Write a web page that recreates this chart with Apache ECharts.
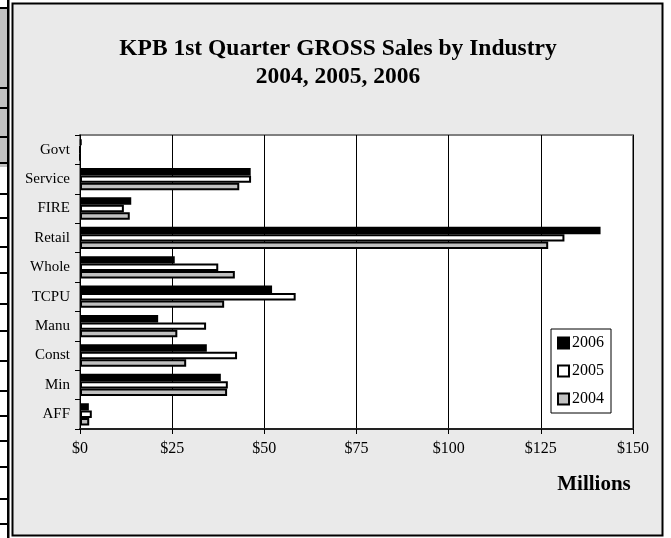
<!DOCTYPE html>
<html>
<head>
<meta charset="utf-8">
<script src="https://cdn.jsdelivr.net/npm/echarts@6/dist/echarts.min.js"></script>
<style>
  html, body { margin: 0; padding: 0; background: #ffffff; }
  #chart { width: 671px; height: 538px; }
</style>
</head>
<body>
<div id="chart"></div>
<script>
// Categories listed bottom to top (category axis on y runs upward)
const industries = ['AFF', 'Min', 'Const', 'Manu', 'TCPU', 'Whole', 'Retail', 'FIRE', 'Service', 'Govt'];
// Gross sales, millions of dollars
const sales2006 = [2.4, 38.2, 34.4, 21.2, 52.1, 25.7, 141.2, 13.9, 46.3, 0.4];
const sales2005 = [3.2, 40.1, 42.6, 34.2, 58.5, 37.5, 131.4, 11.9, 46.4, 0];
const sales2004 = [2.5, 39.9, 28.8, 26.4, 39.1, 42.0, 127.0, 13.5, 43.2, 0];
const xTicks = [0, 25, 50, 75, 100, 125, 150];
const legendOrder = ['2006', '2005', '2004'];

const serif = 'Liberation Serif, Times New Roman, serif';
const chart = echarts.init(document.getElementById('chart'), null, { renderer: 'canvas' });

const leftLines = [7, 87, 107, 136, 162, 193, 217, 246, 272, 303, 330, 360, 390, 415, 440, 466, 498, 523];

const option = {
  animation: false,
  backgroundColor: '#ffffff',
  textStyle: { fontFamily: serif },
  graphic: [
    { type: 'rect', z: -100, shape: { x: 0, y: 7, width: 8, height: 160 }, style: { fill: '#c0c0c0' } },
    { type: 'rect', z: -100, shape: { x: 7, y: 0, width: 2.5, height: 538 }, style: { fill: '#000' } },
    ...leftLines.map(y => ({ type: 'rect', z: -100, shape: { x: 0, y: y, width: 8, height: 2 }, style: { fill: '#000' } })),
    { type: 'rect', z: -100, shape: { x: 12.5, y: 3.5, width: 650, height: 532 }, style: { fill: '#eaeaea', stroke: '#000', lineWidth: 2 } }
  ],
  title: [
    {
      text: 'KPB 1st Quarter GROSS Sales by Industry\n2004, 2005, 2006',
      left: 333, top: 30, textAlign: 'center',
      textStyle: { fontFamily: serif, fontWeight: 'bold', fontSize: 23.5, lineHeight: 28, color: '#000' }
    },
    {
      text: 'Millions',
      left: 589, top: 469, textAlign: 'center',
      textStyle: { fontFamily: serif, fontWeight: 'bold', fontSize: 21, color: '#000' }
    }
  ],
  legend: {
    data: legendOrder,
    orient: 'vertical',
    left: 551, top: 329,
    padding: [6, 7, 6, 6],
    itemGap: 12,
    itemWidth: 11, itemHeight: 11,
    backgroundColor: '#ffffff',
    borderColor: '#000', borderWidth: 1,
    textStyle: { fontFamily: serif, fontSize: 16, color: '#000', padding: [0, 0, 0, -2] },
    icon: 'rect'
  },
  grid: {
    left: 80, right: 38, top: 135, bottom: 109,
    show: true, backgroundColor: '#ffffff',
    borderColor: '#808080', borderWidth: 2
  },
  xAxis: {
    type: 'value', min: 0, max: 150, interval: 25,
    axisLine: { show: true, lineStyle: { color: '#222', width: 2 } },
    axisTick: { show: true, length: 5, lineStyle: { color: '#000' } },
    splitLine: { show: true, lineStyle: { color: '#000', width: 1 } },
    axisLabel: {
      margin: 12, fontFamily: serif, fontSize: 16, color: '#000',
      formatter: v => xTicks.indexOf(v) >= 0 ? '$' + v : ''
    }
  },
  yAxis: {
    type: 'category', data: industries,
    axisLine: { show: true, lineStyle: { color: '#000', width: 1 } },
    axisTick: { show: true, length: 5, lineStyle: { color: '#000' } },
    axisLabel: { margin: 10, fontFamily: serif, fontSize: 15, color: '#000' }
  },
  series: [
    { name: '2006', type: 'bar', data: sales2006, barGap: '0%', barCategoryGap: '24%',
      itemStyle: { color: '#000000', borderColor: '#000', borderWidth: 2 } },
    { name: '2005', type: 'bar', data: sales2005, barGap: '0%', barCategoryGap: '24%',
      itemStyle: { color: '#ffffff', borderColor: '#000', borderWidth: 2 } },
    { name: '2004', type: 'bar', data: sales2004, barGap: '0%', barCategoryGap: '24%',
      itemStyle: { color: '#c0c0c0', borderColor: '#000', borderWidth: 2 } }
  ]
};
chart.setOption(option);
</script>
</body>
</html>
